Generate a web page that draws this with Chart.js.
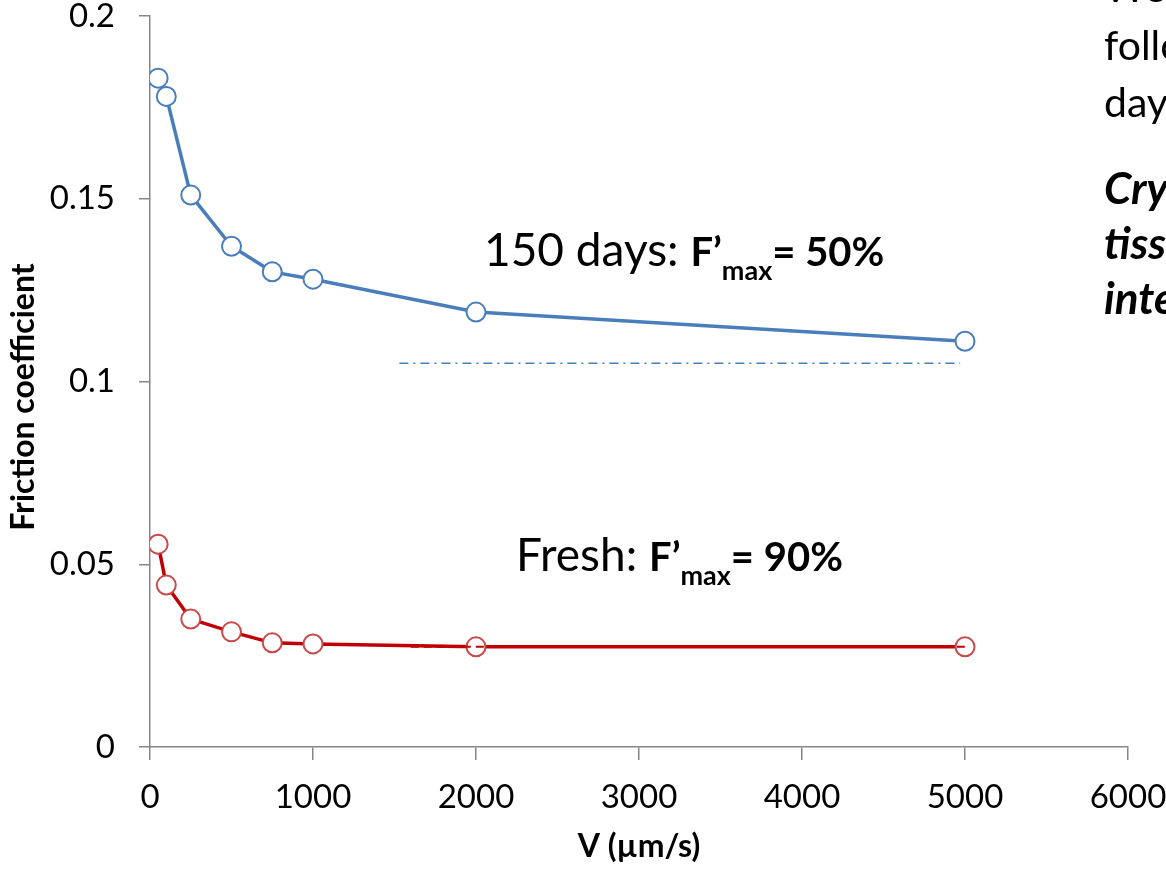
<!DOCTYPE html>
<html>
<head>
<meta charset="utf-8">
<title>Friction coefficient vs sliding speed</title>
<script src="https://cdn.jsdelivr.net/npm/chart.js@4.4.1/dist/chart.umd.min.js"></script>
<style>
  html, body { margin: 0; padding: 0; background: #fff; overflow: hidden; }
  #wrap { width: 1166px; height: 869px; position: relative; }
</style>
</head>
<body>
<div id="wrap"><canvas id="c" width="1166" height="869"></canvas></div>
<script>
// Sliding speed (µm/s)
const velocities = [50, 100, 250, 500, 750, 1000, 2000, 5000];
// Friction coefficient after 150 days
const friction150Days = [0.183, 0.178, 0.151, 0.137, 0.130, 0.128, 0.119, 0.111];
// Friction coefficient of fresh tissue
const frictionFresh = [0.0555, 0.0443, 0.035, 0.0315, 0.0285, 0.0282, 0.0274, 0.0274];
// Reference levels
const level150X = [1530, 4970];
const level150Y = [0.105, 0.105];
const levelFreshX = [1600, 5000];
const levelFreshY = [0.0274, 0.0274];
// Axis ticks
const xTickValues = [0, 1000, 2000, 3000, 4000, 5000, 6000];
const yTickValues = [0, 0.05, 0.1, 0.15, 0.2];
const yTickLabels = ['0', '0.05', '0.1', '0.15', '0.2'];
// Text
const xTitle = 'V (µm/s)';
const yTitle = 'Friction coefficient    ';
const label150 = ['150 days: ', 'F’', 'max', '= 50%'];
const labelFresh = ['Fresh: ', 'F’', 'max', '= 90%'];
const sideLines = ['We', 'followed', 'days', 'Cryo', 'tissue', 'integrity'];

const FONT = 'Lato, "Open Sans", "DejaVu Sans", sans-serif';
const BLUE = '#4a7ebb';
const RED = '#c00000';
const AXIS = '#868686';

const toPoints = (xs, ys) => xs.map((x, i) => ({ x: x, y: ys[i] }));

function drawRuns(ctx, x, baseline, runs) {
  ctx.textAlign = 'left';
  ctx.textBaseline = 'alphabetic';
  ctx.fillStyle = '#000';
  for (const r of runs) {
    ctx.font = r.font;
    ctx.fillText(r.text, x, baseline + (r.dy || 0));
    x += ctx.measureText(r.text).width;
  }
}

function labelRuns(parts) {
  return [
    { text: parts[0], font: `400 46px ${FONT}` },
    { text: parts[1], font: `700 40px ${FONT}` },
    { text: parts[2], font: `700 27px ${FONT}`, dy: 14 },
    { text: parts[3], font: `700 40px ${FONT}` }
  ];
}

const textLayer = {
  id: 'textLayer',
  afterDraw(chart) {
    const ctx = chart.ctx;
    ctx.save();
    drawRuns(ctx, 484, 266, labelRuns(label150));
    drawRuns(ctx, 516, 571, labelRuns(labelFresh));
    ctx.fillStyle = '#000';
    ctx.textAlign = 'left';
    ctx.textBaseline = 'alphabetic';
    const baselines = [2, 60, 117, 204, 259, 314];
    sideLines.forEach((t, i) => {
      ctx.font = i < 3 ? `400 41px ${FONT}` : `italic 700 44px ${FONT}`;
      ctx.fillText(t, 1104, baselines[i]);
    });
    ctx.restore();
  }
};

new Chart(document.getElementById('c'), {
  type: 'scatter',
  data: {
    datasets: [
      {
        label: 'Fresh reference',
        data: toPoints(levelFreshX, levelFreshY),
        showLine: true,
        borderColor: RED,
        borderWidth: 2,
        borderDash: [8, 5],
        pointRadius: 0,
        order: 0
      },
      {
        label: '150 days',
        data: toPoints(velocities, friction150Days),
        showLine: true,
        borderColor: BLUE,
        borderWidth: 3.5,
        pointRadius: 9.5,
        pointBorderWidth: 2,
        pointBorderColor: BLUE,
        pointBackgroundColor: '#ffffff',
        order: 2
      },
      {
        label: 'Fresh',
        data: toPoints(velocities, frictionFresh),
        showLine: true,
        borderColor: RED,
        borderWidth: 3.5,
        pointRadius: 9.5,
        pointBorderWidth: 2,
        pointBorderColor: '#c84a4a',
        pointBackgroundColor: '#ffffff',
        order: 2
      },
      {
        label: '150 days reference',
        data: toPoints(level150X, level150Y),
        showLine: true,
        borderColor: BLUE,
        borderWidth: 1.5,
        borderDash: [9, 5, 2, 5],
        pointRadius: 0,
        order: 1
      }
    ]
  },
  options: {
    responsive: false,
    animation: false,
    devicePixelRatio: 1,
    layout: { padding: { left: 0, top: 16, right: 38, bottom: 0 } },
    plugins: {
      legend: { display: false },
      tooltip: { enabled: false }
    },
    scales: {
      x: {
        type: 'linear',
        min: 0,
        max: 6000,
        afterBuildTicks: s => { s.ticks = xTickValues.map(v => ({ value: v })); },
        afterFit: s => { s.height = 122; s.paddingLeft = 0; s.paddingRight = 0; },
        ticks: {
          font: { family: FONT, size: 33 },
          color: '#000',
          padding: 18,
          maxRotation: 0,
          autoSkip: false,
          callback: v => String(v)
        },
        grid: { drawOnChartArea: false, drawTicks: true, tickLength: 13, color: AXIS, lineWidth: 1.5 },
        border: { color: AXIS, width: 1.5 },
        title: {
          display: true,
          text: xTitle,
          color: '#000',
          font: { family: FONT, size: 32, weight: 'bold' },
          padding: { top: 0, bottom: 3 }
        }
      },
      y: {
        type: 'linear',
        min: 0,
        max: 0.2,
        afterBuildTicks: s => { s.ticks = yTickValues.map(v => ({ value: v })); },
        afterFit: s => { s.width = 150; s.paddingTop = 0; s.paddingBottom = 0; },
        ticks: {
          font: { family: FONT, size: 33 },
          color: '#000',
          padding: 24,
          autoSkip: false,
          callback: (v, i) => yTickLabels[i]
        },
        grid: { drawOnChartArea: false, drawTicks: true, tickLength: 11, color: AXIS, lineWidth: 1.5 },
        border: { color: AXIS, width: 1.5 },
        title: {
          display: true,
          text: yTitle,
          color: '#000',
          font: { family: FONT, size: 32, weight: 'bold' },
          padding: { top: 4, bottom: 0 }
        }
      }
    }
  },
  plugins: [textLayer]
});
</script>
</body>
</html>
